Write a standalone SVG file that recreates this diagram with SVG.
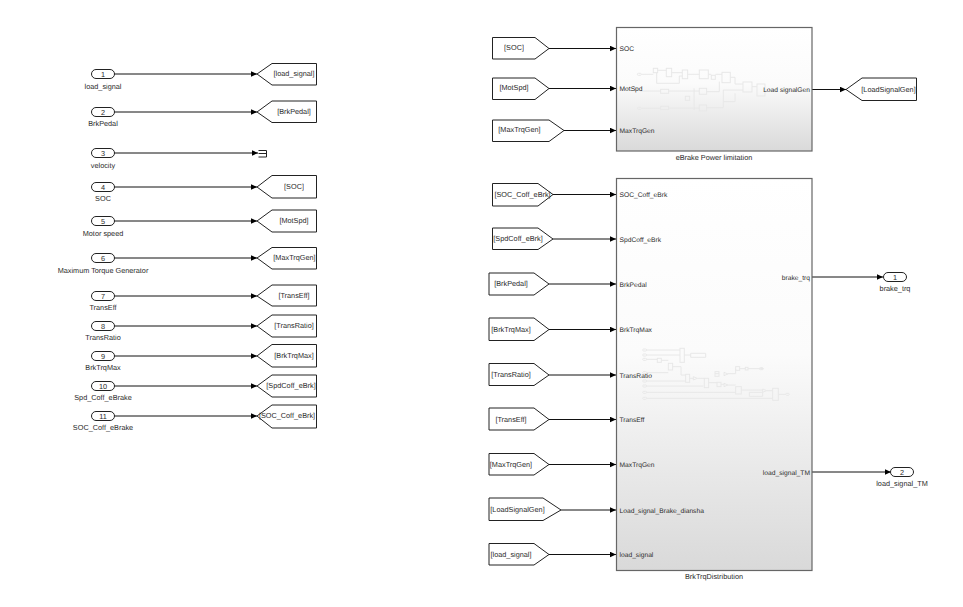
<svg xmlns="http://www.w3.org/2000/svg" width="963" height="607" viewBox="0 0 963 607">
<defs>
<linearGradient id="sg" x1="0" y1="0" x2="0" y2="1"><stop offset="0" stop-color="#ffffff"/><stop offset="0.45" stop-color="#fbfbfb"/><stop offset="1" stop-color="#d9d9d9"/></linearGradient>
<marker id="ah" markerUnits="userSpaceOnUse" markerWidth="7" markerHeight="6" refX="6" refY="3" orient="auto"><path d="M0 0.2L6 3L0 5.800z" fill="#000"/></marker>
</defs>
<style>
text{font-family:"Liberation Sans",Arial,sans-serif;font-size:7.300px;fill:#2a2a2a;text-rendering:geometricPrecision;opacity:.99}
.p{font-size:6.700px}
.m{text-anchor:middle}
.e{text-anchor:end}
.n{fill:#fff;stroke:#222;stroke-width:1}
.s{fill:url(#sg);stroke:#666;stroke-width:1.200}
.c{fill:none;stroke:#111;stroke-width:1;marker-end:url(#ah)}
.t{fill:none;stroke:#222;stroke-width:1}
.g *{fill:none;stroke:#e8e8e8;stroke-width:3}
</style>
<rect width="963" height="607" fill="#fff"/>
<g id="connectors">
<path class="c" d="M114 74H257"/><path class="c" d="M114 112H257"/><path class="c" d="M114 153H258"/><path class="c" d="M114 187H257"/><path class="c" d="M114 221H257"/><path class="c" d="M114 258H257"/><path class="c" d="M114 296H257"/><path class="c" d="M114 326H257"/><path class="c" d="M114 356H257"/><path class="c" d="M114 386H257"/><path class="c" d="M114 416H257"/>
<path class="c" d="M549 48.500H616"/><path class="c" d="M549 88.500H616"/><path class="c" d="M564 130.500H616"/><path class="c" d="M812 89.500H846"/>
<path class="c" d="M553 194.500H616"/><path class="c" d="M553 239H616"/><path class="c" d="M549 284H616"/><path class="c" d="M549 329.500H616"/><path class="c" d="M549 375H616"/><path class="c" d="M549 419.500H616"/><path class="c" d="M549 464.500H616"/><path class="c" d="M561 510H616"/><path class="c" d="M549 554.500H616"/>
<path class="c" d="M812 277H883"/><path class="c" d="M812 472H891"/>
</g>
<g id="in1"><rect class="n" x="91.500" y="69.500" width="23" height="9" rx="4.500"/><text class="m" x="103" y="76.500">1</text><text class="m" x="103" y="89">load_signal</text></g>
<g id="in2"><rect class="n" x="91.500" y="107.500" width="23" height="9" rx="4.500"/><text class="m" x="103" y="114.500">2</text><text class="m" x="103" y="126">BrkPedal</text></g>
<g id="in3"><rect class="n" x="91.500" y="148.500" width="23" height="9" rx="4.500"/><text class="m" x="103" y="155.500">3</text><text class="m" x="103" y="168">velocity</text></g>
<g id="in4"><rect class="n" x="91.500" y="182.500" width="23" height="9" rx="4.500"/><text class="m" x="103" y="189.500">4</text><text class="m" x="103" y="201">SOC</text></g>
<g id="in5"><rect class="n" x="91.500" y="216.500" width="23" height="9" rx="4.500"/><text class="m" x="103" y="223.500">5</text><text class="m" x="103" y="236">Motor speed</text></g>
<g id="in6"><rect class="n" x="91.500" y="253.500" width="23" height="9" rx="4.500"/><text class="m" x="103" y="260.500">6</text><text class="m" x="103" y="273">Maximum Torque Generator</text></g>
<g id="in7"><rect class="n" x="91.500" y="291.500" width="23" height="9" rx="4.500"/><text class="m" x="103" y="298.500">7</text><text class="m" x="103" y="310">TransEff</text></g>
<g id="in8"><rect class="n" x="91.500" y="321.500" width="23" height="9" rx="4.500"/><text class="m" x="103" y="328.500">8</text><text class="m" x="103" y="340">TransRatio</text></g>
<g id="in9"><rect class="n" x="91.500" y="351.500" width="23" height="9" rx="4.500"/><text class="m" x="103" y="358.500">9</text><text class="m" x="103" y="370">BrkTrqMax</text></g>
<g id="in10"><rect class="n" x="91.500" y="381.500" width="23" height="9" rx="4.500"/><text class="m" x="103" y="388.500">10</text><text class="m" x="103" y="400">Spd_Coff_eBrake</text></g>
<g id="in11"><rect class="n" x="91.500" y="411.500" width="23" height="9" rx="4.500"/><text class="m" x="103" y="418.500">11</text><text class="m" x="103" y="430">SOC_Coff_eBrake</text></g>
<g id="goto1"><path class="n" d="M257 74L272 63.500H316.500V85H272z"/><text class="m" x="294" y="76">[load_signal]</text></g>
<g id="goto2"><path class="n" d="M257 112L272 101H316.500V122.500H272z"/><text class="m" x="294" y="114">[BrkPedal]</text></g>
<g id="term3"><path class="t" d="M258.500 150.500H266.500V157H258.500M258.500 153.500H266.500"/></g>
<g id="goto4"><path class="n" d="M257 187L272 175.500H316.500V198H272z"/><text class="m" x="294" y="189">[SOC]</text></g>
<g id="goto5"><path class="n" d="M257 221L272 210H316.500V232H272z"/><text class="m" x="294" y="223">[MotSpd]</text></g>
<g id="goto6"><path class="n" d="M257 258L272 247.500H316.500V269H272z"/><text class="m" x="294.500" y="260">[MaxTrqGen]</text></g>
<g id="goto7"><path class="n" d="M257 296L272 285H316.500V306H272z"/><text class="m" x="294" y="298">[TransEff]</text></g>
<g id="goto8"><path class="n" d="M257 326L272 315H316.500V337H272z"/><text class="m" x="294" y="328">[TransRatio]</text></g>
<g id="goto9"><path class="n" d="M257 356L272 344.500H316.500V367H272z"/><text class="m" x="294" y="358">[BrkTrqMax]</text></g>
<g id="goto10"><path class="n" d="M257 386L272 375H316.500V397H272z"/><text class="m" x="291" y="388">[SpdCoff_eBrk]</text></g>
<g id="goto11"><path class="n" d="M257 416L272 405H316.500V428H272z"/><text class="m" x="287" y="418">[SOC_Coff_eBrk]</text></g>
<g id="from1"><path class="n" d="M492.500 37.500H535L549 48.500L535 59H492.500z"/><text class="m" x="514" y="50">[SOC]</text></g>
<g id="from2"><path class="n" d="M492.500 78H535L549 88.500L535 99.500H492.500z"/><text class="m" x="514" y="90">[MotSpd]</text></g>
<g id="from3"><path class="n" d="M492.500 120H549L564 130.500L549 141.500H492.500z"/><text class="m" x="519.500" y="132">[MaxTrqGen]</text></g>
<g id="sub1"><rect class="s" x="616.500" y="27.500" width="195.500" height="123.500"/>
<g class="g" transform="translate(620 60) scale(.3333)"><rect x="52" y="40" width="12" height="6" rx="3"/><path d="M64 43H100M113 31H139M155 38H187M203 43H238M265 43H274M286 43H306M331 52H345V72H369M110 38V70H178V48H187"/><rect x="100" y="25" width="13" height="13"/><rect x="139" y="25" width="16" height="25"/><rect x="187" y="30" width="16" height="26"/><rect x="238" y="30" width="27" height="26"/><rect x="274" y="46" width="12" height="12"/><rect x="306" y="37" width="25" height="31"/><rect x="52" y="142" width="12" height="6" rx="3"/><path d="M64 145H122M146 144H238M60 93H122M146 93H238M222 85V150M260 95H298V65M260 143H310V90H369M310 125H345V100"/><rect x="122" y="139" width="24" height="10"/><rect x="122" y="88" width="24" height="12"/><rect x="238" y="85" width="22" height="18"/><rect x="238" y="135" width="22" height="18"/><rect x="196" y="109" width="13" height="12"/><rect x="369" y="66" width="27" height="30"/><rect x="411" y="72" width="24" height="36"/><path d="M396 80H411"/></g>
<text class="p" x="619.500" y="50.500">SOC</text><text class="p" x="619.500" y="91">MotSpd</text><text class="p" x="619.500" y="133">MaxTrqGen</text><text class="p e" x="810" y="92">Load signalGen</text><text class="m" x="714" y="160">eBrake Power limitation</text></g>
<g id="goto12"><path class="n" d="M846 89.500L862 78H916.500V100.500H862z"/><text class="m" x="888.500" y="91.500">[LoadSignalGen]</text></g>
<g id="from4"><path class="n" d="M492.500 183.500H538L553 194.500L538 206H492.500z"/><text class="m" x="522.500" y="196.500">[SOC_Coff_eBrk]</text></g>
<g id="from5"><path class="n" d="M492.500 228H538L553 239L538 249.500H492.500z"/><text class="m" x="518" y="241">[SpdCoff_eBrk]</text></g>
<g id="from6"><path class="n" d="M489 273H534L549 284L534 295H489z"/><text class="m" x="511" y="286">[BrkPedal]</text></g>
<g id="from7"><path class="n" d="M489 318H534L549 329.500L534 340.500H489z"/><text class="m" x="511" y="331.500">[BrkTrqMax]</text></g>
<g id="from8"><path class="n" d="M489 363.500H534L549 375L534 385.500H489z"/><text class="m" x="511" y="377">[TransRatio]</text></g>
<g id="from9"><path class="n" d="M489 408H534L549 419.500L534 430H489z"/><text class="m" x="511" y="421.500">[TransEff]</text></g>
<g id="from10"><path class="n" d="M489 453.500H534L549 464.500L534 475H489z"/><text class="m" x="511" y="466.500">[MaxTrqGen]</text></g>
<g id="from11"><path class="n" d="M489 498H543L561 510L543 520.500H489z"/><text class="m" x="517.500" y="512">[LoadSignalGen]</text></g>
<g id="from12"><path class="n" d="M489 543.500H534L549 554.500L534 565H489z"/><text class="m" x="511" y="556.500">[load_signal]</text></g>
<g id="sub2"><rect class="s" x="616.500" y="178.500" width="195.500" height="392"/>
<g class="g" transform="translate(620 330) scale(.3333)"><path d="M80 60H180M80 75H180M80 88H112M124 91H145M193 75H212M80 128H145M158 110H183V135H197M80 153H197M209 145H220M232 145H253M80 168H250M266 158H291M80 187H347M80 205H458M303 163H312M324 165H347M364 180H428M440 182H458M475 193H497M297 131H285M324 131H347V116M359 116H376M384 116H430"/><rect x="68" y="57" width="12" height="6" rx="3"/><rect x="68" y="72" width="12" height="6" rx="3"/><rect x="68" y="85" width="12" height="6" rx="3"/><rect x="68" y="125" width="12" height="6" rx="3"/><rect x="68" y="150" width="12" height="6" rx="3"/><rect x="68" y="165" width="12" height="6" rx="3"/><rect x="68" y="184" width="12" height="6" rx="3"/><rect x="68" y="202" width="12" height="6" rx="3"/><rect x="497" y="190" width="11" height="6" rx="3"/><rect x="418" y="113" width="12" height="6" rx="3"/><rect x="112" y="85" width="12" height="12"/><rect x="180" y="55" width="13" height="42"/><path d="M212 70H257V82H212z"/><rect x="145" y="100" width="13" height="20"/><rect x="197" y="133" width="12" height="24"/><path d="M220 140L232 145L220 150z"/><rect x="253" y="145" width="13" height="28"/><rect x="285" y="125" width="12" height="14"/><path d="M312 127L324 132L312 137z"/><rect x="347" y="110" width="12" height="11"/><rect x="376" y="112" width="8" height="8"/><rect x="291" y="157" width="12" height="13"/><path d="M312 160L324 165L312 170z"/><rect x="347" y="170" width="17" height="22"/><path d="M388 187H428V199H388z"/><path d="M428 177L440 182L428 187z"/><rect x="458" y="175" width="17" height="36"/></g>
<text class="p" x="619.500" y="197">SOC_Coff_eBrk</text><text class="p" x="619.500" y="241.500">SpdCoff_eBrk</text><text class="p" x="619.500" y="287">BrkPedal</text><text class="p" x="619.500" y="332">BrkTrqMax</text><text class="p" x="619.500" y="377.500">TransRatio</text><text class="p" x="619.500" y="422">TransEff</text><text class="p" x="619.500" y="467">MaxTrqGen</text><text class="p" x="619.500" y="512.500">Load_signal_Brake_diansha</text><text class="p" x="619.500" y="557">load_signal</text><text class="p e" x="810" y="280">brake_trq</text><text class="p e" x="810" y="475">load_signal_TM</text><text class="m" x="714" y="579">BrkTrqDistribution</text></g>
<g id="out1"><rect class="n" x="883.500" y="272.500" width="23" height="9" rx="4.500"/><text class="m" x="895" y="279.500">1</text><text class="m" x="895" y="291">brake_trq</text></g>
<g id="out2"><rect class="n" x="890.500" y="467.500" width="23" height="9" rx="4.500"/><text class="m" x="902" y="474.500">2</text><text class="m" x="902" y="486">load_signal_TM</text></g>
</svg>
